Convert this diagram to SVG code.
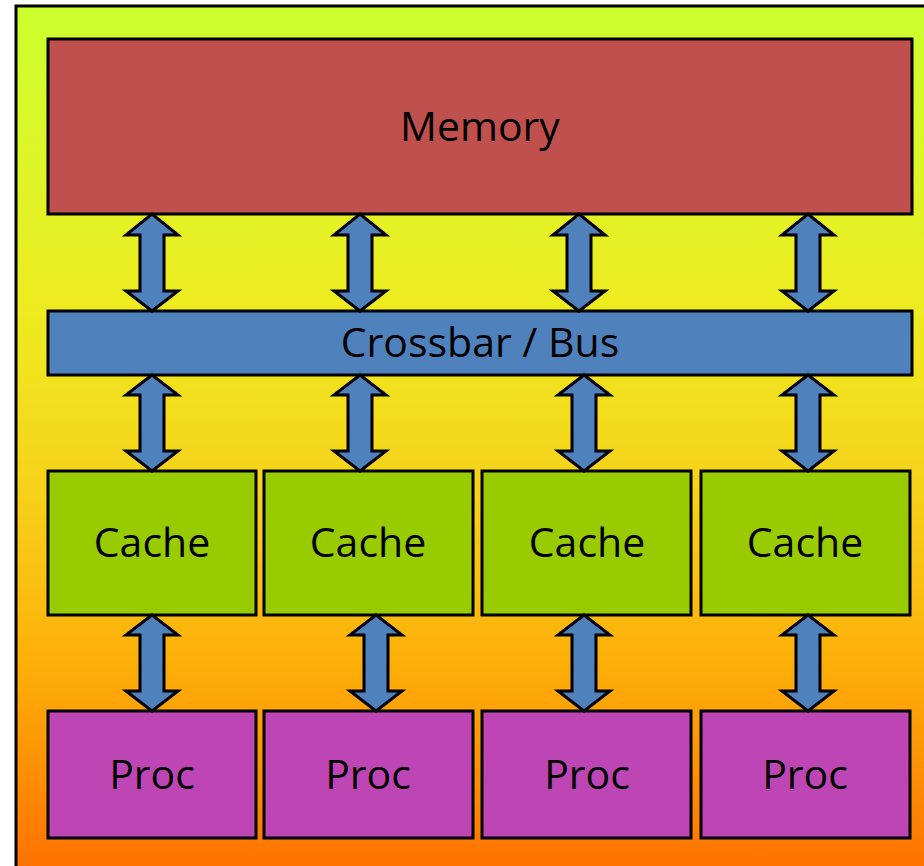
<svg xmlns="http://www.w3.org/2000/svg" width="924" height="866" viewBox="0 0 924 866">
<style>
.bx{stroke:#000;stroke-width:3}
.t{font-family:"Open Sans","Liberation Sans",sans-serif;font-size:41px;fill:#000;text-anchor:middle;dominant-baseline:central}
.ar{fill:#4F81BD;stroke:#000;stroke-width:3;stroke-linejoin:miter}
</style>
<defs>
<linearGradient id="bg" x1="0" y1="0" x2="0" y2="1">
<stop offset="0" stop-color="#CCFF2E"/>
<stop offset="0.35" stop-color="#EEEB20"/>
<stop offset="0.55" stop-color="#F6D21A"/>
<stop offset="0.75" stop-color="#FDB00A"/>
<stop offset="1" stop-color="#FF6E00"/>
</linearGradient>
</defs>
<rect width="924" height="866" fill="#fff"/>
<rect x="16" y="6" width="920" height="875" fill="url(#bg)" stroke="#000" stroke-width="3"/>
<g id="memory"><rect class="bx" x="48" y="39" width="864" height="175" fill="#C0504D"/><text class="t" x="480" y="125">Memory</text></g>
<g id="crossbar"><rect class="bx" x="48" y="311" width="864" height="64" fill="#4F81BD"/><text class="t" x="480" y="341">Crossbar / Bus</text></g>
<g id="cache1"><rect class="bx" x="48" y="471" width="208" height="144" fill="#99CC00"/><text class="t" x="152" y="541">Cache</text></g>
<g id="cache2"><rect class="bx" x="264" y="471" width="209" height="144" fill="#99CC00"/><text class="t" x="368" y="541">Cache</text></g>
<g id="cache3"><rect class="bx" x="482" y="471" width="209" height="144" fill="#99CC00"/><text class="t" x="587" y="541">Cache</text></g>
<g id="cache4"><rect class="bx" x="701" y="471" width="209" height="144" fill="#99CC00"/><text class="t" x="805" y="541">Cache</text></g>
<g id="proc1"><rect class="bx" x="48" y="711" width="208" height="127" fill="#BE45B4"/><text class="t" x="152" y="773">Proc</text></g>
<g id="proc2"><rect class="bx" x="264" y="711" width="209" height="127" fill="#BE45B4"/><text class="t" x="368" y="773">Proc</text></g>
<g id="proc3"><rect class="bx" x="482" y="711" width="209" height="127" fill="#BE45B4"/><text class="t" x="587" y="773">Proc</text></g>
<g id="proc4"><rect class="bx" x="701" y="711" width="209" height="127" fill="#BE45B4"/><text class="t" x="805" y="773">Proc</text></g>
<g id="connectors">
<polygon class="ar" points="152,214 178,235 164,235 164,291 178,291 152,311 126,291 140,291 140,235 126,235"/>
<polygon class="ar" points="360,214 386,235 372,235 372,291 386,291 360,311 334,291 348,291 348,235 334,235"/>
<polygon class="ar" points="579,214 605,235 591,235 591,291 605,291 579,311 553,291 567,291 567,235 553,235"/>
<polygon class="ar" points="808,214 834,235 820,235 820,291 834,291 808,311 782,291 796,291 796,235 782,235"/>
<polygon class="ar" points="152,375 178,395 164,395 164,451 178,451 152,471 126,451 140,451 140,395 126,395"/>
<polygon class="ar" points="360,375 386,395 372,395 372,451 386,451 360,471 334,451 348,451 348,395 334,395"/>
<polygon class="ar" points="584,375 610,395 596,395 596,451 610,451 584,471 558,451 572,451 572,395 558,395"/>
<polygon class="ar" points="808,375 834,395 820,395 820,451 834,451 808,471 782,451 796,451 796,395 782,395"/>
<polygon class="ar" points="152,615 178,635 164,635 164,691 178,691 152,711 126,691 140,691 140,635 126,635"/>
<polygon class="ar" points="376,615 402,635 388,635 388,691 402,691 376,711 350,691 364,691 364,635 350,635"/>
<polygon class="ar" points="584,615 610,635 596,635 596,691 610,691 584,711 558,691 572,691 572,635 558,635"/>
<polygon class="ar" points="808,615 834,635 820,635 820,691 834,691 808,711 782,691 796,691 796,635 782,635"/>
</g>
</svg>
